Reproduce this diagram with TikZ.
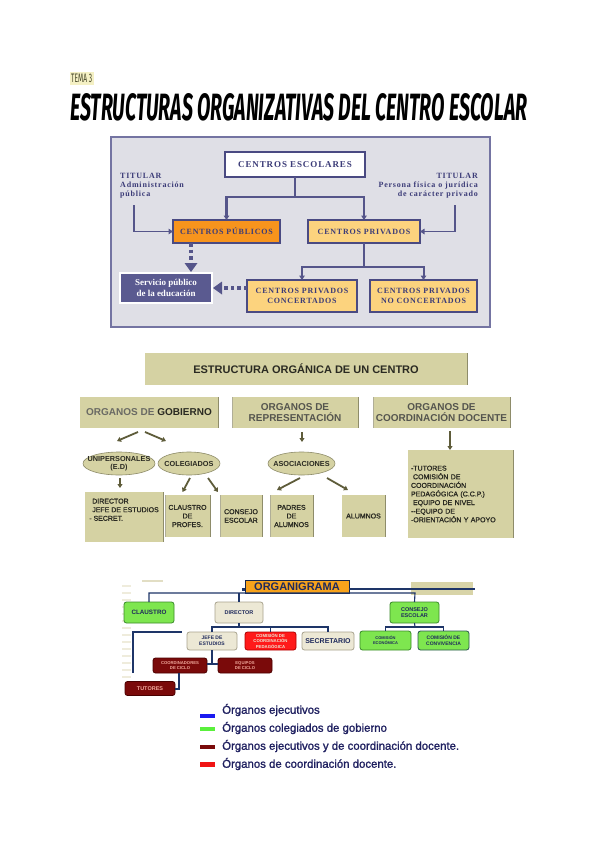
\documentclass[tikz,border=0pt]{standalone}
\usepackage{fontspec}
\setmainfont{Liberation Sans}
\newfontfamily\semib[FakeBold=1.3]{Liberation Sans}
\newfontfamily\tserif[LetterSpace=10]{Liberation Serif}
\newfontfamily\tserifn{Liberation Serif}
\newfontfamily\titlefont{Fira Sans}
\usetikzlibrary{arrows.meta,calc,shapes.geometric}
\definecolor{fbg}{HTML}{DFDFE6}
\definecolor{fframe}{HTML}{7474A2}
\definecolor{fline}{HTML}{55558A}
\definecolor{fbord}{HTML}{4A4A82}
\definecolor{ftext}{HTML}{3C3C78}
\definecolor{orng}{HTML}{F7941D}
\definecolor{lorng}{HTML}{FCD37E}
\definecolor{serv}{HTML}{5A5A90}
\definecolor{khaki}{HTML}{D5D2A3}
\definecolor{khakid}{HTML}{8E8C6A}
\definecolor{olarrow}{HTML}{5E5C3A}
\definecolor{ktext}{HTML}{2A2A22}
\definecolor{navy}{HTML}{1E3568}
\definecolor{ntext}{HTML}{1F2A5C}
\definecolor{ogreen}{HTML}{7EE64F}
\definecolor{ogreend}{HTML}{3A8A2A}
\definecolor{obeige}{HTML}{ECE8D5}
\definecolor{obeiged}{HTML}{A9A38E}
\definecolor{ored}{HTML}{FF1A1A}
\definecolor{oredd}{HTML}{B00000}
\definecolor{odred}{HTML}{7A0A0A}
\definecolor{odredd}{HTML}{4A0000}
\definecolor{oorange}{HTML}{F7A21B}
\definecolor{legtext}{HTML}{1F2060}
\definecolor{temabg}{HTML}{F4F0C4}
\definecolor{tematx}{HTML}{464628}
\definecolor{stripe}{HTML}{EFECDC}
\definecolor{stripe2}{HTML}{E2DEC4}
\definecolor{khrect}{HTML}{D8D4A8}
\definecolor{lblue}{HTML}{1A1AF0}
\definecolor{lgreen}{HTML}{5AF03C}
\definecolor{lred}{HTML}{F01414}
\begin{document}
\begin{tikzpicture}[x=1pt,y=-1pt,
  sz/.style 2 args={minimum width=#1pt,minimum height=#2pt,inner sep=0pt,outer sep=0pt},
  fbox/.style={draw=fbord,line width=1.4pt,font=\tserif\bfseries\fontsize{8}{9.5}\selectfont,text=ftext,align=center},
  fconn/.style={draw=fline,line width=2.6pt},
  fthin/.style={draw=fline,line width=1.3pt},
  ftip/.style={-{Triangle[width=5.5pt,length=4.5pt]}},
  fdots/.style={draw=fline,line width=4pt,dash pattern=on 3.5pt off 3pt},
  kbox/.style={fill=khaki,align=center,text=ktext,font=\semib\fontsize{7}{8.6}\selectfont},
  khead/.style={fill=khaki,align=center,text=ktext,font=\bfseries\fontsize{10}{11.5}\selectfont},
  kell/.style={ellipse,draw=khakid,line width=0.6pt,fill=khaki,inner sep=0pt},
  kelltext/.style={inner sep=0pt,text=ktext,align=center,font=\bfseries\fontsize{7.3}{8.5}\selectfont},
  karrow/.style={draw=olarrow,line width=1.8pt,-{Triangle[width=5pt,length=4pt]}},
  obox/.style={rounded corners=2.5pt,line width=0.8pt,align=center,font=\bfseries\fontsize{5}{5.8}\selectfont},
  ogreenb/.style={obox,fill=ogreen,draw=ogreend,text=ntext},
  obeigeb/.style={obox,fill=obeige,draw=obeiged,text=ntext},
  oredb/.style={obox,fill=ored,draw=oredd,text=obeige},
  odredb/.style={obox,fill=odred,draw=odredd,text=obeige!70!ored},
  oline/.style={draw=navy,line width=1.1pt},
  legsw/.style={minimum width=15pt,minimum height=4.5pt,inner sep=0pt},
  legt/.style={anchor=west,text=legtext,font=\semib\fontsize{11.4}{13}\selectfont,inner sep=0pt}
]
\useasboundingbox[fill=white] (0,0) rectangle (600,848);
% ---------- header ----------
\fill[temabg] (70,72) rectangle (94,85);
\node[inner sep=0pt,anchor=north west,text=tematx] (tema) at (71,74)
  {\resizebox{21pt}{8.5pt}{\titlefont TEMA 3}};
\node[inner sep=0pt,anchor=north west] (title) at (70,93)
  {\resizebox{457pt}{27pt}{\titlefont\bfseries\itshape ESTRUCTURAS ORGANIZATIVAS DEL CENTRO ESCOLAR}};

% ---------- diagram 1 ----------
\draw[fill=fbg,draw=fframe,line width=1.2pt] (111,137) rectangle (490,327);
\node[fbox,fill=white,line width=2.2pt,sz={140}{25},font=\tserif\bfseries\fontsize{9}{10}\selectfont] (ce) at (295,164.5) {CENTROS ESCOLARES};
\node[fbox,fill=orng,sz={107}{23}] (cpub) at (226.5,231.5) {CENTROS PÚBLICOS};
\node[fbox,fill=lorng,sz={112}{23}] (cpriv) at (364,231.5) {CENTROS PRIVADOS};
\node[fbox,fill=lorng,sz={110}{32}] (cpc) at (302,296) {CENTROS PRIVADOS\\CONCERTADOS};
\node[fbox,fill=lorng,sz={107}{32}] (cpnc) at (423.5,296) {CENTROS PRIVADOS\\NO CONCERTADOS};
\node[fbox,fill=serv,draw=white,line width=1.6pt,text=white,sz={92}{30},font=\tserifn\bfseries\fontsize{9}{11}\selectfont] (serv) at (166,288) {Servicio público\\de la educación};
\node[anchor=north west,inner sep=0pt,align=left,text=ftext,font=\tserif\bfseries\fontsize{8}{9}\selectfont] (tit1) at (120,173) {TITULAR\\Administración\\pública};
\node[anchor=north east,inner sep=0pt,align=right,text=ftext,font=\tserif\bfseries\fontsize{8}{9}\selectfont] (tit2) at (478,173) {TITULAR\\Persona física o jurídica\\de carácter privado};
\coordinate (j1) at (295,197);
\coordinate (j2) at (364,267);
\coordinate (t1) at (134,205);
\coordinate (t2) at (455,205);
\coordinate (d1) at ($(cpub.south west)+(18,0)$);
\draw[fconn] (ce.south) -- (j1);
\draw[fconn,ftip] (j1) -| (cpub.north);
\draw[fconn,ftip] (j1) -| (cpriv.north);
\draw[fthin,ftip] (t1) |- (cpub.west);
\draw[fthin,ftip] (t2) |- (cpriv.east);
\draw[fconn] (cpriv.south) -- (j2);
\draw[fthin,line width=2pt,ftip] (j2) -| (cpc.north);
\draw[fthin,line width=2pt,ftip] (j2) -| (cpnc.north);
\draw[fdots] (d1) -- ($(d1 |- serv.north)+(0,-9)$);
\fill[fline] ($(d1 |- serv.north)+(-6.5,-10)$) -- ($(d1 |- serv.north)+(6.5,-10)$) -- ($(d1 |- serv.north)+(0,-1)$) -- cycle;
\draw[fdots] (cpc.west |- serv.east) -- ($(serv.east)+(10,0)$);
\fill[fline] ($(serv.east)+(10,-6.5)$) -- ($(serv.east)+(10,6.5)$) -- ($(serv.east)+(1,0)$) -- cycle;

% ---------- diagram 2 ----------
\node[khead,sz={322}{32},font=\bfseries\fontsize{11}{12}\selectfont] (eoc) at (306,369) {ESTRUCTURA ORGÁNICA DE UN CENTRO};
\draw[khakid,line width=0.8pt] (eoc.north east) -- (eoc.south east);
\node[khead,sz={138}{31}] (ogob) at (149,412.5) {\textcolor{ktext!70}{ORGANOS DE} GOBIERNO};
\node[khead,sz={126}{31},text=ktext!80] (orep) at (295,412.5) {ORGANOS DE\\REPRESENTACIÓN};
\node[khead,sz={137}{31},text=ktext!80] (ocoo) at (441.5,412.5) {ORGANOS DE\\COORDINACIÓN DOCENTE};
\foreach \n in {ogob,orep,ocoo} {\draw[khakid,line width=0.9pt] (\n.north east) -- (\n.south east);}
\draw[khakid!70,line width=0.7pt] (orep.north west) -- (orep.south west);
\draw[khakid!70,line width=0.7pt] (ocoo.north west) -- (ocoo.south west);
\node[kell,sz={72}{23}] (unip) at (119,463.5) {};
\node[kell,sz={62}{23}] (coleg) at (189,463.5) {};
\node[kell,sz={67}{23}] (asoc) at (301.5,463.5) {};
\node[kelltext] (unipt) at (unip.center) {UNIPERSONALES\\(E.D)};
\node[kelltext] (colegt) at (coleg.center) {COLEGIADOS};
\node[kelltext] (asoct) at (asoc.center) {ASOCIACIONES};
\node[kbox,sz={78}{50},align=left] (dir) at (124,517) {\hspace*{3pt}DIRECTOR\\\hspace*{3pt}JEFE DE ESTUDIOS\\- SECRET.\\[6pt]};
\node[kbox,sz={45}{42}] (claus) at (187.5,516) {CLAUSTRO\\DE\\PROFES.};
\node[kbox,sz={42}{42}] (cesc) at (241,516) {CONSEJO\\ESCOLAR};
\node[kbox,sz={43}{42}] (padr) at (291.5,516) {PADRES\\DE\\ALUMNOS};
\node[kbox,sz={43}{42}] (alum) at (363.5,516) {ALUMNOS};
\node[kbox,sz={105}{88},align=left,text width=99pt] (coord) at (460.5,494) {-TUTORES\\\hspace*{2pt}COMISIÓN DE\\COORDINACIÓN\\PEDAGÓGICA (C.C.P.)\\\hspace*{2pt}EQUIPO DE NIVEL\\--EQUIPO DE\\-ORIENTACIÓN Y APOYO};
\foreach \n in {dir,claus,cesc,padr,alum,coord} {\draw[khakid,line width=0.9pt] (\n.north east) -- (\n.south east);}
\foreach \n in {claus,cesc,padr} {\draw[khakid!70,line width=0.7pt] (\n.north west) -- (\n.south west);}
\coordinate (a1) at (138,432); \coordinate (a2) at (145,432);
\coordinate (a3) at ($(ocoo.south)+(8.5,3)$);
\draw[karrow] (a1) -- (117,441);
\draw[karrow] (a2) -- (166,441);
\draw[karrow] ($(orep.south)+(7,4)$) -- ($(orep.south)+(7,14)$);
\draw[karrow] (a3) -- (a3 |- coord.north);
\draw[karrow] ($(unip.south)+(1,3)$) -- ($(unip.south)+(1,13)$);
\draw[karrow] ($(coleg.south)+(1,3)$) -- ($(claus.north)+(-5,-3)$);
\draw[karrow] ($(coleg.south)+(19,3)$) -- ($(cesc.north)+(-23,-3)$);
\draw[karrow] ($(asoc.south)+(-1.5,3)$) -- ($(padr.north)+(-14.5,-5)$);
\draw[karrow] ($(asoc.south)+(25.5,3)$) -- ($(alum.north)+(-15.5,-5)$);

% ---------- diagram 3 ----------
\fill[stripe2] (142,579.5) rectangle (163,581.5);
\foreach \yy in {585,592,...,678} {\fill[stripe] (122,\yy) rectangle (131,\yy+2);}
\fill[khrect] (411,582) rectangle (473,595);
\node[draw=navy!70!black,line width=0.8pt,fill=oorange,sz={104}{13},text=ntext,font=\bfseries\fontsize{11}{12}\selectfont] (org) at (297,586.5) {ORGANIGRAMA};
\coordinate (oe) at (475,589);
\draw[navy,line width=2.6pt] (org.east |- oe) -- (oe);
\fill[navy] (241.5,587.5) rectangle (244.5,590.5);
\node[ogreenb,sz={50}{21},font=\bfseries\fontsize{6.3}{7}\selectfont] (claustro) at (149,612.5) {CLAUSTRO};
\node[obeigeb,sz={48}{21},font=\bfseries\fontsize{5.5}{6.5}\selectfont] (dirr) at (239,612.5) {DIRECTOR};
\node[ogreenb,sz={49}{21},font=\bfseries\fontsize{5.5}{6.8}\selectfont] (consejo) at (414.5,612.5) {CONSEJO\\ESCOLAR};
\node[obeigeb,sz={50}{18}] (jefe) at (212,641) {JEFE DE\\ESTUDIOS};
\node[oredb,sz={51}{18},font=\bfseries\fontsize{4.3}{5.2}\selectfont] (ccp) at (270.5,641) {COMISIÓN DE\\COORDINACIÓN\\PEDAGÓGICA};
\node[obeigeb,sz={52}{18},font=\bfseries\fontsize{7}{8}\selectfont] (secr) at (328,641) {SECRETARIO};
\node[ogreenb,sz={51}{19},font=\bfseries\fontsize{4}{5}\selectfont] (ceco) at (385.5,640.5) {COMISIÓN\\ECONÓMICA};
\node[ogreenb,sz={51}{19},draw=navy!60!ogreend] (cconv) at (443.5,640.5) {COMISIÓN DE\\CONVIVENCIA};
\node[odredb,sz={54}{15},font=\bfseries\fontsize{4.2}{5}\selectfont] (coordc) at (180,665.5) {COORDINADORES\\DE CICLO};
\node[odredb,sz={54}{15},font=\bfseries\fontsize{4.2}{5}\selectfont] (equip) at (245,665.5) {EQUIPOS\\DE CICLO};
\node[odredb,sz={50}{14},font=\bfseries\fontsize{5.5}{6}\selectfont] (tut) at (150,688.5) {TUTORES};
\coordinate (h1) at (149,593);
\coordinate (h2) at (239,593);
\coordinate (h3) at (415,593);
\draw[oline] (claustro.north) -- (h1) -- (h3) -- (consejo.north);
\draw[oline] (h2) -- (dirr.north);
\coordinate (k1) at (239,627);
\draw[oline] (dirr.south) -- (k1);
\draw[oline] (jefe.north) |- (k1) -| (secr.north);
\draw[oline] (k1 -| ccp.north) -- (ccp.north);
\coordinate (k2) at (415,627);
\draw[oline] (consejo.south) -- (k2);
\draw[oline] (ceco.north) |- (k2) -| (cconv.north);
\coordinate (k3) at (212,664);
\draw[oline,line width=1.5pt] (jefe.south) -- (k3);
\draw[oline,line width=1.5pt] (coordc.east |- k3) -- (equip.west |- k3);
\coordinate (k4) at (179,689);
\draw[oline,line width=1.5pt] (coordc.south -| k4) -- (k4) -- (tut.east |- k4);
\coordinate (k5) at (133,673);
\coordinate (k6) at (182,632);
\draw[oline,line width=1.6pt] (k5) |- (k6);

% legend
\node[legsw,fill=lblue] (s1) at (207.5,716) {};
\node[legsw,fill=lgreen] (s2) at (207.5,729) {};
\node[legsw,fill=odred] (s3) at (207.5,747) {};
\node[legsw,fill=lred] (s4) at (207.5,764.5) {};
\node[legt] (l1) at (222,710) {Órganos ejecutivos};
\node[legt] (l2) at (222,728) {Órganos colegiados de gobierno};
\node[legt] (l3) at (222,746) {Órganos ejecutivos y de coordinación docente.};
\node[legt] (l4) at (222,764) {Órganos de coordinación docente.};
\end{tikzpicture}
\end{document}
